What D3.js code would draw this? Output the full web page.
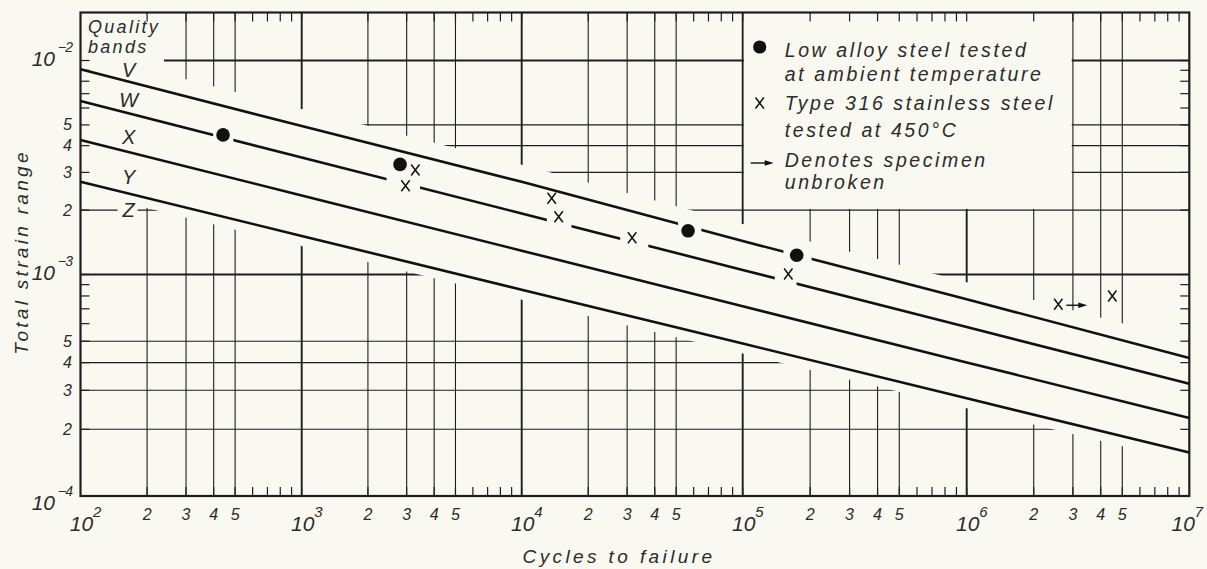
<!DOCTYPE html>
<html><head><meta charset="utf-8">
<script src="https://cdn.jsdelivr.net/npm/d3@7/dist/d3.min.js"></script>
<style>
html,body{margin:0;padding:0;background:#f9f9f1;}
svg{display:block;}
text{font-family:"Liberation Sans",Arial,sans-serif;font-style:italic;fill:#2b2b2b;}
</style></head><body>
<svg id="chart" width="1207" height="569"></svg>
<script>
// ---------------- data ----------------
const cycleDecades = [1e2, 1e3, 1e4, 1e5, 1e6, 1e7];
const strainDecades = [1e-4, 1e-3, 1e-2];
const gridMultipliers = [1, 2, 3, 4, 5];
const tickMultipliers = [1, 2, 3, 4, 5, 6, 7, 8, 9];
const labelMultipliers = [2, 3, 4, 5];

// quality band boundary lines, strain at each cycle decade
const lineV = [9.10e-3, 4.94e-3, 2.71e-3, 1.434e-3, 7.73e-4, 4.20e-4];
const lineW = [6.47e-3, 3.52e-3, 1.928e-3, 1.050e-3, 5.79e-4, 3.21e-4];
const lineX = [4.25e-3, 2.34e-3, 1.292e-3, 7.19e-4, 4.01e-4, 2.25e-4];
const lineY = [2.71e-3, 1.514e-3, 8.54e-4, 4.88e-4, 2.76e-4, 1.572e-4];
// breaks drawn in the lines around the test points (cycle ranges)
const gapsV = [[5.1e4, 6.5e4], [1.52e5, 2.03e5]];
const gapsW = [[398, 491], [2430, 3450], [1.30e4, 1.68e4], [2.79e4, 3.74e4], [1.39e5, 1.74e5]];
const gapsX = [];
const gapsY = [];

const bandNames = ["V", "W", "X", "Y", "Z"];
const bandLabelCycles = 165;
const bandLabelStrain = [9.03e-3, 6.54e-3, 4.37e-3, 2.84e-3, 2.0e-3];

// low alloy steel, ambient temperature (filled circles)
const lowAlloyCycles = [441, 2799, 5.66e4, 1.742e5];
const lowAlloyStrain = [4.49e-3, 3.27e-3, 1.60e-3, 1.23e-3];
// type 316 stainless steel at 450°C (crosses)
const ss316Cycles = [2964, 3285, 1.367e4, 1.47e4, 3.16e4, 1.598e5, 2.58e6, 4.51e6];
const ss316Strain = [2.60e-3, 3.08e-3, 2.27e-3, 1.86e-3, 1.486e-3, 1.005e-3, 7.34e-4, 8.0e-4];
const ss316Unbroken = [false, false, false, false, false, false, true, false];

const legendLines = ["Low alloy steel tested", "at ambient temperature",
  "Type 316 stainless steel", "tested at 450°C", "Denotes specimen", "unbroken"];
const qualityTitle = ["Quality", "bands"];
const xTitle = "Cycles to failure";
const yTitle = "Total strain range";

// ---------------- layout ----------------
const W = 1207, H = 569, BG = "#f9f9f1", INK = "#1e1e1e";
const x = d3.scaleLog().domain(cycleDecades).range([80.5, 301.7, 521.7, 742.7, 966.7, 1189.3]);
const yMaxStrain = 0.01676;
const y = d3.scaleLog().domain([1e-4, 1e-3, 1e-2, yMaxStrain]).range([496, 274.5, 60.5, 12.5]);
const L = x(1e2), R = x(1e7), T = y(yMaxStrain), B = y(1e-4);

const svg = d3.select("#chart");
svg.append("rect").attr("width", W).attr("height", H).attr("fill", BG);
const defs = svg.append("defs");

// grid values
const xGrid = [], xTicks = [], yGrid = [], yTicks = [];
cycleDecades.forEach(d => {
  gridMultipliers.forEach(k => { const v = k * d; if (v > 1e2 && v < 1e7) xGrid.push(v); });
  tickMultipliers.forEach(k => { const v = k * d; if (v > 1e2 && v < 1e7) xTicks.push(v); });
});
strainDecades.forEach(d => {
  gridMultipliers.forEach(k => { const v = k * d; if (v > 1e-4 && v < yMaxStrain) yGrid.push(v); });
  tickMultipliers.forEach(k => { const v = k * d; if (v > 1e-4 && v < yMaxStrain) yTicks.push(v); });
});
const isDecade = v => Math.abs(Math.log10(v) - Math.round(Math.log10(v))) < 1e-6;

// mask that keeps the grid out of the band area, legend and titles
const gm = defs.append("mask").attr("id", "gridMask").attr("maskUnits", "userSpaceOnUse")
  .attr("x", 0).attr("y", 0).attr("width", W).attr("height", H);
gm.append("rect").attr("width", W).attr("height", H).attr("fill", "#fff");
const topEdge = lineV.map((v, i) => [x(cycleDecades[i]), y(v) - 17]);
const botEdge = lineY.map((v, i) => [x(cycleDecades[i]), y(v) + 10]);
const poly = [[0, topEdge[0][1]], ...topEdge, [W, topEdge[5][1]], [W, botEdge[5][1]],
  ...botEdge.slice().reverse(), [0, botEdge[0][1]]];
gm.append("path").attr("d", d3.line()(poly) + "Z").attr("fill", "#000");
gm.append("rect").attr("x", x(1e5) + 1.2).attr("y", T - 5)
  .attr("width", x(3e6) - x(1e5) - 2.4).attr("height", y(2e-3) - T + 5 - 1.2).attr("fill", "#000");
gm.append("rect").attr("x", L + 1.5).attr("y", T + 1.5).attr("width", 82).attr("height", 62).attr("fill", "#000");
gm.append("rect").attr("x", x(bandLabelCycles) - 11).attr("y", y(2e-3) - 10)
  .attr("width", 20).attr("height", 20).attr("fill", "#000");

const grid = svg.append("g").attr("mask", "url(#gridMask)");
grid.selectAll("line.vg").data(xGrid).join("line").attr("class", "vg")
  .attr("x1", d => x(d)).attr("x2", d => x(d)).attr("y1", T).attr("y2", B)
  .attr("stroke", INK).attr("stroke-width", d => isDecade(d) ? 1.9 : 1.1);
grid.selectAll("line.hg").data(yGrid).join("line").attr("class", "hg")
  .attr("y1", d => y(d)).attr("y2", d => y(d)).attr("x1", L).attr("x2", R)
  .attr("stroke", INK).attr("stroke-width", d => isDecade(d) ? 1.9 : 1.1);

// ticks on all four borders
const tk = svg.append("g").attr("stroke", INK).attr("stroke-width", 1.2);
const tlen = 9;
xTicks.forEach(v => {
  tk.append("line").attr("x1", x(v)).attr("x2", x(v)).attr("y1", B).attr("y2", B - tlen);
  tk.append("line").attr("x1", x(v)).attr("x2", x(v)).attr("y1", T).attr("y2", T + tlen);
});
yTicks.forEach(v => {
  tk.append("line").attr("y1", y(v)).attr("y2", y(v)).attr("x1", L).attr("x2", L + tlen);
  tk.append("line").attr("y1", y(v)).attr("y2", y(v)).attr("x1", R).attr("x2", R - tlen);
});

// frame
svg.append("rect").attr("x", L).attr("y", T).attr("width", R - L).attr("height", B - T)
  .attr("fill", "none").attr("stroke", INK).attr("stroke-width", 2.2);

// band lines with breaks
const bandLines = [[lineV, gapsV], [lineW, gapsW], [lineX, gapsX], [lineY, gapsY]];
const lineGen = d3.line().x((d, i) => x(cycleDecades[i])).y(d => y(d));
bandLines.forEach(([vals, gaps], li) => {
  const m = defs.append("mask").attr("id", "lm" + li).attr("maskUnits", "userSpaceOnUse")
    .attr("x", 0).attr("y", 0).attr("width", W).attr("height", H);
  m.append("rect").attr("width", W).attr("height", H).attr("fill", "#fff");
  gaps.forEach(g => m.append("rect").attr("x", x(g[0])).attr("y", 0)
    .attr("width", x(g[1]) - x(g[0])).attr("height", H).attr("fill", "#000"));
  svg.append("path").attr("d", lineGen(vals)).attr("fill", "none").attr("stroke", "#111")
    .attr("stroke-width", 2.6).attr("stroke-linejoin", "round").attr("mask", "url(#lm" + li + ")");
});

// markers
const crossPath = (cx, cy) => `M${cx - 4.2},${cy - 5.5}L${cx + 4.2},${cy + 5.5}M${cx + 4.2},${cy - 5.5}L${cx - 4.2},${cy + 5.5}`;
svg.append("g").selectAll("circle").data(lowAlloyCycles).join("circle")
  .attr("cx", d => x(d)).attr("cy", (d, i) => y(lowAlloyStrain[i])).attr("r", 6.8).attr("fill", "#111");
svg.append("g").selectAll("path").data(ss316Cycles).join("path")
  .attr("d", (d, i) => crossPath(x(d), y(ss316Strain[i])))
  .attr("stroke", "#111").attr("stroke-width", 1.5).attr("fill", "none");
const arrow = (g, x0, x1, yy) => {
  g.append("line").attr("x1", x0).attr("x2", x1 - 6).attr("y1", yy).attr("y2", yy)
    .attr("stroke", "#111").attr("stroke-width", 1.4);
  g.append("path").attr("d", `M${x1},${yy}L${x1 - 9},${yy - 2.8}L${x1 - 9},${yy + 2.8}Z`).attr("fill", "#111");
};
ss316Cycles.forEach((d, i) => {
  if (ss316Unbroken[i]) arrow(svg, x(d) + 8, x(d) + 29, y(ss316Strain[i]) + 1);
});

// band labels
svg.append("g").selectAll("text").data(bandNames).join("text")
  .attr("x", x(bandLabelCycles)).attr("y", (d, i) => y(bandLabelStrain[i]))
  .attr("text-anchor", "middle").attr("dominant-baseline", "central")
  .style("font-size", "20px").text(d => d);

// quality bands title
qualityTitle.forEach((t, i) => svg.append("text").attr("x", L + 7.5).attr("y", T + 20 + i * 20.5)
  .style("font-size", "18px").style("letter-spacing", "2.3px").text(t));

// legend
const lgX = x(1e5);
const lgBase = [57, 80.5, 110, 136.5, 166.5, 188.5];
legendLines.forEach((t, i) => svg.append("text").attr("x", lgX + 42).attr("y", lgBase[i])
  .style("font-size", "19.5px").style("letter-spacing", "2.6px").text(t));
svg.append("circle").attr("cx", lgX + 17).attr("cy", lgBase[0] - 10).attr("r", 6.6).attr("fill", "#111");
svg.append("path").attr("d", crossPath(lgX + 17, lgBase[2] - 7)).attr("stroke", "#111").attr("stroke-width", 1.5);
arrow(svg, lgX + 8, lgX + 31, lgBase[4] - 3.5);

// x tick labels
const xlab = svg.append("g");
cycleDecades.forEach(d => {
  const sh = d === 1e7 ? -7 : 0;
  xlab.append("text").attr("x", x(d) + 1 + sh).attr("y", 531).attr("text-anchor", "middle")
    .style("font-size", "21px").text("10");
  xlab.append("text").attr("x", x(d) + 12.5 + sh).attr("y", 517).style("font-size", "15px")
    .text(Math.round(Math.log10(d)));
  if (d < 1e7) labelMultipliers.forEach(k => xlab.append("text").attr("x", x(k * d)).attr("y", 520)
    .attr("text-anchor", "middle").style("font-size", "16px").text(k));
});
// y tick labels
const ylab = svg.append("g");
strainDecades.forEach(d => {
  const yy = y(d) + (d === 1e-4 ? 14 : 5);
  ylab.append("text").attr("x", 55).attr("y", yy).attr("text-anchor", "end")
    .style("font-size", "21px").text("10");
  ylab.append("text").attr("x", 58).attr("y", yy - 14).style("font-size", "14px")
    .style("letter-spacing", "-1px").text("\u2212" + Math.abs(Math.round(Math.log10(d))));
  labelMultipliers.forEach(k => {
    const v = k * d;
    if (v <= yMaxStrain) ylab.append("text").attr("x", 72).attr("y", y(v))
      .attr("text-anchor", "end").attr("dominant-baseline", "central")
      .style("font-size", "16px").text(k);
  });
});

// axis titles
svg.append("text").attr("x", 619).attr("y", 563).attr("text-anchor", "middle")
  .style("font-size", "19px").style("letter-spacing", "3.4px").text(xTitle);
svg.append("text").attr("transform", "translate(28,252) rotate(-90)").attr("text-anchor", "middle")
  .style("font-size", "19px").style("letter-spacing", "3.3px").text(yTitle);
</script>
</body></html>
